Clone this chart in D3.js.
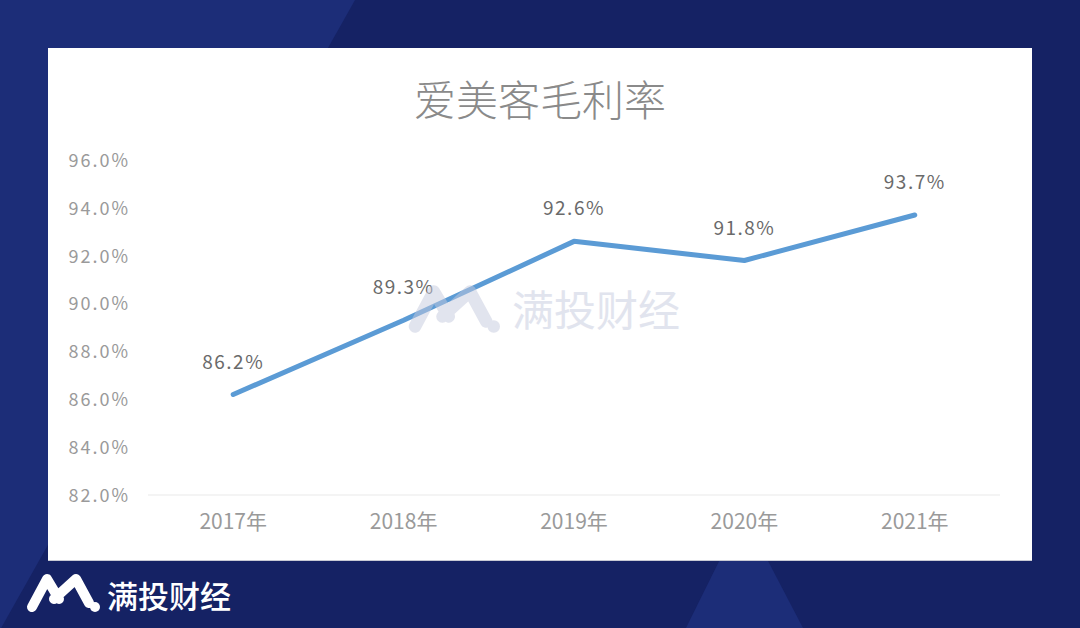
<!DOCTYPE html>
<html><head><meta charset="utf-8">
<script src="https://cdn.jsdelivr.net/npm/d3@7/dist/d3.min.js"></script>
<style>body{margin:0;padding:0;overflow:hidden;background:#152264}svg{display:block}</style>
</head><body>
<svg id="c" width="1080" height="628"></svg>
<script>
const title = "爱美客毛利率";
const categories = ["2017年","2018年","2019年","2020年","2021年"];
const values = [86.2, 89.3, 92.6, 91.8, 93.7];
const yTicks = [82, 84, 86, 88, 90, 92, 94, 96];
const brand = "满投财经";

const svg = d3.select("#c");
const font = "'Noto Sans CJK SC','Noto Sans',sans-serif";

// background
svg.append("rect").attr("width",1080).attr("height",628).attr("fill","#152264");
svg.append("path").attr("d","M0,0L355,0L0,630Z").attr("fill","#1c2d78");
svg.append("path").attr("d","M743,513L686,628L803,628Z").attr("fill","#1c2d78");

// panel
svg.append("rect").attr("x",48).attr("y",48).attr("width",984).attr("height",512).attr("fill","#fff");
svg.append("line").attr("x1",48).attr("x2",1032).attr("y1",560.5).attr("y2",560.5).attr("stroke","#c8cad4").attr("stroke-width",1);

// title
svg.append("text").attr("x",540).attr("y",116).attr("text-anchor","middle")
  .attr("font-family",font).attr("font-size",42).attr("font-weight",300).attr("fill","#8a8a8a").text(title);

const x = d3.scaleBand().domain(categories).range([148,1000]);
const y = d3.scaleLinear().domain([82,96]).range([495,160]);

// baseline gridline
svg.append("line").attr("x1",148).attr("x2",1000).attr("y1",y(82)).attr("y2",y(82))
  .attr("stroke","#f0f0f0").attr("stroke-width",1.5);

// y axis
const yAxis = d3.axisLeft(y).tickValues(yTicks).tickSize(0).tickPadding(0)
  .tickFormat(d => d3.format(".1f")(d) + "%");
const gy = svg.append("g").attr("transform","translate(130,0)").call(yAxis);
gy.select(".domain").remove();
gy.selectAll("text").attr("font-family",font).attr("font-size",18).attr("fill","#9a9a9a")
  .attr("letter-spacing","2px").attr("dy","0.35em");

// x axis
const xAxis = d3.axisBottom(x).tickSize(0).tickPadding(0);
const gx = svg.append("g").attr("transform","translate(0,513)").call(xAxis);
gx.select(".domain").remove();
gx.selectAll("text").attr("font-family",font).attr("font-size",21).attr("fill","#9a9a9a").attr("dy","0.75em");

// line
const data = categories.map((c,i)=>({c, v:values[i]}));
const line = d3.line().x(d=>x(d.c)+x.bandwidth()/2).y(d=>y(d.v));
svg.append("path").datum(data).attr("d",line).attr("fill","none")
  .attr("stroke","#5b9bd5").attr("stroke-width",5).attr("stroke-linejoin","round").attr("stroke-linecap","round");

// labels
svg.selectAll(".lbl").data(data).enter().append("text")
  .attr("x",d=>x(d.c)+x.bandwidth()/2).attr("y",d=>y(d.v)-26)
  .attr("text-anchor","middle").attr("font-family",font).attr("font-size",19)
  .attr("letter-spacing","1.5px").attr("fill","#6a6a6a")
  .text(d=>d3.format(".1f")(d.v)+"%");

// logo helper
function logo(g, color, sw){
  g.append("path").attr("d","M0,30 L15,2 L27,22 M22,22 L44,2 L57,26")
    .attr("fill","none").attr("stroke",color).attr("stroke-width",sw)
    .attr("stroke-linecap","round").attr("stroke-linejoin","round");
  g.append("circle").attr("cx",63).attr("cy",30).attr("r",5).attr("fill",color);
}
// watermark
const wm = svg.append("g").attr("opacity",0.5);
const wl = wm.append("g").attr("transform","translate(415,289) scale(1.25)");
logo(wl,"#c5cade",10);
wm.append("text").attr("x",512).attr("y",326).attr("font-family",font).attr("font-size",42)
  .attr("fill","#c5cade").text(brand);

// bottom brand
const bl = svg.append("g").attr("transform","translate(32,577)");
logo(bl,"#ffffff",10);
svg.append("text").attr("x",107).attr("y",608).attr("font-family",font).attr("font-size",31)
  .attr("font-weight",500).attr("fill","#ffffff").text(brand);
</script>
</body></html>
